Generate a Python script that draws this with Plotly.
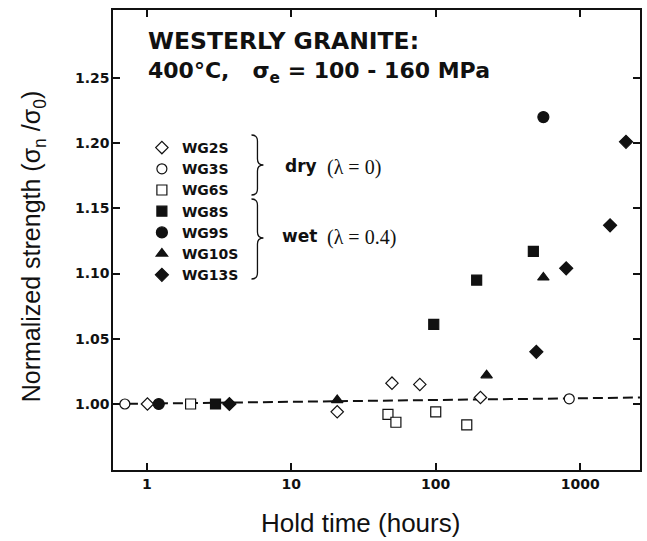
import plotly.graph_objects as go

# ---------------- data ----------------
series_names = ["WG2S", "WG3S", "WG6S", "WG8S", "WG9S", "WG10S", "WG13S"]

wg2s_hours = [1.01, 20.8, 49.8, 77.6, 204]
wg2s_strength = [1.000, 0.994, 1.016, 1.015, 1.005]

wg3s_hours = [0.705, 840]
wg3s_strength = [1.000, 1.004]

wg6s_hours = [2.01, 46.7, 53, 100, 164]
wg6s_strength = [1.000, 0.992, 0.986, 0.994, 0.984]

wg8s_hours = [2.99, 96.9, 192, 474]
wg8s_strength = [1.000, 1.061, 1.095, 1.117]

wg9s_hours = [1.21, 556]
wg9s_strength = [1.000, 1.220]

wg10s_hours = [20.8, 225, 556]
wg10s_strength = [1.003, 1.022, 1.097]

wg13s_hours = [3.73, 497, 800, 1610, 2075]
wg13s_strength = [1.000, 1.040, 1.104, 1.137, 1.201]

fit_hours = [0.583, 2594]
fit_strength = [1.000, 1.005]

x_tick_vals = [1, 10, 100, 1000]
x_tick_text = ["1", "10", "100", "1000"]
y_tick_vals = [1.00, 1.05, 1.10, 1.15, 1.20, 1.25]
y_tick_text = ["1.00", "1.05", "1.10", "1.15", "1.20", "1.25"]

# ---------------- geometry ----------------
W, H = 647, 541
L, R, T, B = 113, 642, 10, 470
PW, PH = R - L, B - T


def px(x):
    return (x - L) / PW


def py(y):
    return (B - y) / PH


BOLD = "DejaVu Sans"
SANS = "Liberation Sans, Arial, sans-serif"
SERIF = "Liberation Serif, Times New Roman, serif"

fig = go.Figure()

fig.add_trace(go.Scatter(
    x=fit_hours, y=fit_strength, mode="lines",
    line=dict(color="#111", width=2, dash="10px,5px"),
    showlegend=False, hoverinfo="skip"))

styles = [
    (wg2s_hours, wg2s_strength, "diamond", "white", 9.5),
    (wg3s_hours, wg3s_strength, "circle", "white", 10),
    (wg6s_hours, wg6s_strength, "square", "white", 10),
    (wg8s_hours, wg8s_strength, "square", "#111", 10),
    (wg9s_hours, wg9s_strength, "circle", "#111", 11),
    (wg10s_hours, wg10s_strength, "triangle-up", "#111", 10),
    (wg13s_hours, wg13s_strength, "diamond", "#111", 10),
]
for name, (xs, ys, sym, col, sz) in zip(series_names, styles):
    fig.add_trace(go.Scatter(
        x=xs, y=ys, mode="markers", name=name,
        marker=dict(symbol=sym, color=col, size=sz,
                    line=dict(color="#111", width=1.2))))


def brace(x0, yt, yb, ym, w=12, r=6):
    xm = x0 + w / 2
    xt = x0 + w
    pts = (f"M {px(x0)},{py(yt)} "
           f"Q {px(xm)},{py(yt)} {px(xm)},{py(yt + r)} "
           f"L {px(xm)},{py(ym - r)} "
           f"Q {px(xm)},{py(ym)} {px(xt)},{py(ym)} "
           f"Q {px(xm)},{py(ym)} {px(xm)},{py(ym + r)} "
           f"L {px(xm)},{py(yb - r)} "
           f"Q {px(xm)},{py(yb)} {px(x0)},{py(yb)}")
    return dict(type="path", path=pts, xref="paper", yref="paper",
                line=dict(color="#111", width=1.3))


shapes = [brace(252, 135, 195, 165), brace(252, 199, 279, 238)]

annotations = [
    dict(text="WESTERLY GRANITE:", x=px(146), y=py(41), xanchor="left", yanchor="middle",
         font=dict(family=BOLD, size=23.5, color="#111", weight="bold")),
    dict(text="400°C,   σ<sub>e</sub> = 100 - 160 MPa", x=px(146), y=py(72),
         xanchor="left", yanchor="middle",
         font=dict(family=BOLD, size=22, color="#111", weight="bold")),
    dict(text="dry", x=px(284), y=py(166), xanchor="left", yanchor="middle",
         font=dict(family=BOLD, size=17, color="#111", weight="bold")),
    dict(text="(λ = 0)", x=px(326), y=py(167), xanchor="left", yanchor="middle",
         font=dict(family=SERIF, size=20, color="#111")),
    dict(text="wet", x=px(281), y=py(236), xanchor="left", yanchor="middle",
         font=dict(family=BOLD, size=17, color="#111", weight="bold")),
    dict(text="(λ = 0.4)", x=px(326), y=py(237), xanchor="left", yanchor="middle",
         font=dict(family=SERIF, size=20, color="#111")),
    dict(text="Hold time (hours)", x=px(361), y=py(523), xanchor="center", yanchor="middle",
         font=dict(family=SANS, size=26, color="#111")),
    dict(text="Normalized strength (σ<sub>n</sub> /σ<sub>0</sub>)", x=px(33), y=py(246),
         xanchor="center", yanchor="middle", textangle=-90,
         font=dict(family=SANS, size=25, color="#111")),
]
for a in annotations:
    a.update(xref="paper", yref="paper", showarrow=False)

tickfont = dict(family=BOLD, size=14, color="#111", weight="bold")

fig.update_layout(
    width=W, height=H,
    margin=dict(l=L, r=W - R, t=T, b=H - B, pad=0),
    paper_bgcolor="white", plot_bgcolor="white",
    showlegend=True,
    legend=dict(x=px(142), y=py(132), xanchor="left", yanchor="top",
                bgcolor="rgba(0,0,0,0)", borderwidth=0,
                font=dict(family=BOLD, size=14, color="#111", weight="bold"),
                tracegroupgap=0),
    shapes=shapes,
    annotations=annotations,
    xaxis=dict(type="log", range=[-0.234, 3.414], tickvals=x_tick_vals, ticktext=x_tick_text,
               ticks="inside", ticklen=7, tickwidth=1.5, tickcolor="#111",
               showline=True, linewidth=1.5, linecolor="#111", mirror="ticks",
               showgrid=False, zeroline=False, tickfont=tickfont),
    yaxis=dict(range=[0.9494, 1.3021], tickvals=y_tick_vals, ticktext=y_tick_text,
               ticks="inside", ticklen=7, tickwidth=1.5, tickcolor="#111",
               showline=True, linewidth=1.5, linecolor="#111", mirror="ticks",
               showgrid=False, zeroline=False, tickfont=tickfont,
               ticklabelstandoff=-1),
)

fig.write_html(
    "out.html",
    config={"displayModeBar": False},
    post_script="document.body.style.margin='0';document.body.style.padding='0';"
                "document.documentElement.style.overflow='hidden';",
)
